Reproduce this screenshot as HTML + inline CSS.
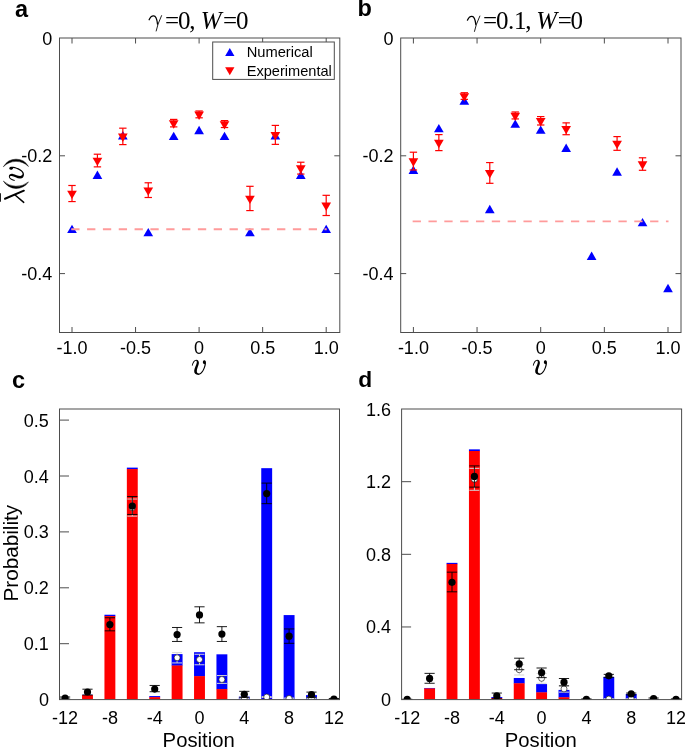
<!DOCTYPE html>
<html><head><meta charset="utf-8"><title>Figure</title>
<style>html,body{margin:0;padding:0;background:#fff;}svg{display:block;will-change:transform;}text{white-space:pre;}</style>
</head><body>
<svg width="685" height="748" viewBox="0 0 685 748">
<rect x="0" y="0" width="685" height="748" fill="#fff"/>
<polygon points="67.15,233.11 76.85,233.11 72.00,224.71" fill="#0000ff"/>
<polygon points="92.57,178.92 102.27,178.92 97.42,170.52" fill="#0000ff"/>
<polygon points="117.99,139.52 127.69,139.52 122.84,131.12" fill="#0000ff"/>
<polygon points="143.41,236.35 153.11,236.35 148.26,227.95" fill="#0000ff"/>
<polygon points="168.83,140.11 178.53,140.11 173.68,131.71" fill="#0000ff"/>
<polygon points="194.25,134.22 203.95,134.22 199.10,125.82" fill="#0000ff"/>
<polygon points="219.67,140.11 229.37,140.11 224.52,131.71" fill="#0000ff"/>
<polygon points="245.09,236.35 254.79,236.35 249.94,227.95" fill="#0000ff"/>
<polygon points="270.51,139.52 280.21,139.52 275.36,131.12" fill="#0000ff"/>
<polygon points="295.93,178.92 305.63,178.92 300.78,170.52" fill="#0000ff"/>
<polygon points="321.35,233.11 331.05,233.11 326.20,224.71" fill="#0000ff"/>
<line x1="71.25" y1="229.25" x2="326.70" y2="229.25" stroke="#ff9b9b" stroke-width="1.9" stroke-dasharray="8.3 7.53"/>
<line x1="72.00" y1="185.49" x2="72.00" y2="201.57" stroke="#ff0000" stroke-width="1.2" />
<line x1="68.30" y1="185.49" x2="75.70" y2="185.49" stroke="#ff0000" stroke-width="1.2" />
<line x1="68.30" y1="201.57" x2="75.70" y2="201.57" stroke="#ff0000" stroke-width="1.2" />
<polygon points="67.15,190.70 76.85,190.70 72.00,199.10" fill="#ff0000"/>
<line x1="97.42" y1="154.21" x2="97.42" y2="166.87" stroke="#ff0000" stroke-width="1.2" />
<line x1="93.72" y1="154.21" x2="101.12" y2="154.21" stroke="#ff0000" stroke-width="1.2" />
<line x1="93.72" y1="166.87" x2="101.12" y2="166.87" stroke="#ff0000" stroke-width="1.2" />
<polygon points="92.57,157.71 102.27,157.71 97.42,166.11" fill="#ff0000"/>
<line x1="122.84" y1="128.18" x2="122.84" y2="144.61" stroke="#ff0000" stroke-width="1.2" />
<line x1="119.14" y1="128.18" x2="126.54" y2="128.18" stroke="#ff0000" stroke-width="1.2" />
<line x1="119.14" y1="144.61" x2="126.54" y2="144.61" stroke="#ff0000" stroke-width="1.2" />
<polygon points="117.99,133.56 127.69,133.56 122.84,141.96" fill="#ff0000"/>
<line x1="148.26" y1="182.78" x2="148.26" y2="197.50" stroke="#ff0000" stroke-width="1.2" />
<line x1="144.56" y1="182.78" x2="151.96" y2="182.78" stroke="#ff0000" stroke-width="1.2" />
<line x1="144.56" y1="197.50" x2="151.96" y2="197.50" stroke="#ff0000" stroke-width="1.2" />
<polygon points="143.41,187.40 153.11,187.40 148.26,195.80" fill="#ff0000"/>
<line x1="173.68" y1="119.40" x2="173.68" y2="126.88" stroke="#ff0000" stroke-width="1.2" />
<line x1="169.98" y1="119.40" x2="177.38" y2="119.40" stroke="#ff0000" stroke-width="1.2" />
<line x1="169.98" y1="126.88" x2="177.38" y2="126.88" stroke="#ff0000" stroke-width="1.2" />
<polygon points="168.83,120.37 178.53,120.37 173.68,128.77" fill="#ff0000"/>
<line x1="199.10" y1="110.98" x2="199.10" y2="117.81" stroke="#ff0000" stroke-width="1.2" />
<line x1="195.40" y1="110.98" x2="202.80" y2="110.98" stroke="#ff0000" stroke-width="1.2" />
<line x1="195.40" y1="117.81" x2="202.80" y2="117.81" stroke="#ff0000" stroke-width="1.2" />
<polygon points="194.25,111.59 203.95,111.59 199.10,119.99" fill="#ff0000"/>
<line x1="224.52" y1="120.58" x2="224.52" y2="127.53" stroke="#ff0000" stroke-width="1.2" />
<line x1="220.82" y1="120.58" x2="228.22" y2="120.58" stroke="#ff0000" stroke-width="1.2" />
<line x1="220.82" y1="127.53" x2="228.22" y2="127.53" stroke="#ff0000" stroke-width="1.2" />
<polygon points="219.67,121.19 229.37,121.19 224.52,129.59" fill="#ff0000"/>
<line x1="249.94" y1="186.31" x2="249.94" y2="210.58" stroke="#ff0000" stroke-width="1.2" />
<line x1="246.24" y1="186.31" x2="253.64" y2="186.31" stroke="#ff0000" stroke-width="1.2" />
<line x1="246.24" y1="210.58" x2="253.64" y2="210.58" stroke="#ff0000" stroke-width="1.2" />
<polygon points="245.09,195.70 254.79,195.70 249.94,204.10" fill="#ff0000"/>
<line x1="275.36" y1="125.41" x2="275.36" y2="144.37" stroke="#ff0000" stroke-width="1.2" />
<line x1="271.66" y1="125.41" x2="279.06" y2="125.41" stroke="#ff0000" stroke-width="1.2" />
<line x1="271.66" y1="144.37" x2="279.06" y2="144.37" stroke="#ff0000" stroke-width="1.2" />
<polygon points="270.51,132.09 280.21,132.09 275.36,140.49" fill="#ff0000"/>
<line x1="300.78" y1="162.22" x2="300.78" y2="174.06" stroke="#ff0000" stroke-width="1.2" />
<line x1="297.08" y1="162.22" x2="304.48" y2="162.22" stroke="#ff0000" stroke-width="1.2" />
<line x1="297.08" y1="174.06" x2="304.48" y2="174.06" stroke="#ff0000" stroke-width="1.2" />
<polygon points="295.93,165.37 305.63,165.37 300.78,173.77" fill="#ff0000"/>
<line x1="326.20" y1="195.32" x2="326.20" y2="215.52" stroke="#ff0000" stroke-width="1.2" />
<line x1="322.50" y1="195.32" x2="329.90" y2="195.32" stroke="#ff0000" stroke-width="1.2" />
<line x1="322.50" y1="215.52" x2="329.90" y2="215.52" stroke="#ff0000" stroke-width="1.2" />
<polygon points="321.35,202.48 331.05,202.48 326.20,210.88" fill="#ff0000"/>
<rect x="59.50" y="38.00" width="280.30" height="294.50" fill="none" stroke="#4d4d4d" stroke-width="1.0"/>
<line x1="72.00" y1="332.50" x2="72.00" y2="327.00" stroke="#4d4d4d" stroke-width="1.0" />
<line x1="72.00" y1="38.00" x2="72.00" y2="43.50" stroke="#4d4d4d" stroke-width="1.0" />
<line x1="135.55" y1="332.50" x2="135.55" y2="327.00" stroke="#4d4d4d" stroke-width="1.0" />
<line x1="135.55" y1="38.00" x2="135.55" y2="43.50" stroke="#4d4d4d" stroke-width="1.0" />
<line x1="199.10" y1="332.50" x2="199.10" y2="327.00" stroke="#4d4d4d" stroke-width="1.0" />
<line x1="199.10" y1="38.00" x2="199.10" y2="43.50" stroke="#4d4d4d" stroke-width="1.0" />
<line x1="262.65" y1="332.50" x2="262.65" y2="327.00" stroke="#4d4d4d" stroke-width="1.0" />
<line x1="262.65" y1="38.00" x2="262.65" y2="43.50" stroke="#4d4d4d" stroke-width="1.0" />
<line x1="326.20" y1="332.50" x2="326.20" y2="327.00" stroke="#4d4d4d" stroke-width="1.0" />
<line x1="326.20" y1="38.00" x2="326.20" y2="43.50" stroke="#4d4d4d" stroke-width="1.0" />
<line x1="59.50" y1="155.80" x2="65.00" y2="155.80" stroke="#4d4d4d" stroke-width="1.0" />
<line x1="339.80" y1="155.80" x2="334.30" y2="155.80" stroke="#4d4d4d" stroke-width="1.0" />
<line x1="59.50" y1="273.60" x2="65.00" y2="273.60" stroke="#4d4d4d" stroke-width="1.0" />
<line x1="339.80" y1="273.60" x2="334.30" y2="273.60" stroke="#4d4d4d" stroke-width="1.0" />
<text x="72.00" y="353.60" font-family='"Liberation Sans", sans-serif' font-size="18" text-anchor="middle" font-weight="normal" font-style="normal" fill="#000" >-1.0</text>
<text x="135.55" y="353.60" font-family='"Liberation Sans", sans-serif' font-size="18" text-anchor="middle" font-weight="normal" font-style="normal" fill="#000" >-0.5</text>
<text x="199.10" y="353.60" font-family='"Liberation Sans", sans-serif' font-size="18" text-anchor="middle" font-weight="normal" font-style="normal" fill="#000" >0</text>
<text x="262.65" y="353.60" font-family='"Liberation Sans", sans-serif' font-size="18" text-anchor="middle" font-weight="normal" font-style="normal" fill="#000" >0.5</text>
<text x="326.20" y="353.60" font-family='"Liberation Sans", sans-serif' font-size="18" text-anchor="middle" font-weight="normal" font-style="normal" fill="#000" >1.0</text>
<text x="52.30" y="44.50" font-family='"Liberation Sans", sans-serif' font-size="18" text-anchor="end" font-weight="normal" font-style="normal" fill="#000" >0</text>
<text x="52.30" y="162.30" font-family='"Liberation Sans", sans-serif' font-size="18" text-anchor="end" font-weight="normal" font-style="normal" fill="#000" >-0.2</text>
<text x="52.30" y="280.10" font-family='"Liberation Sans", sans-serif' font-size="18" text-anchor="end" font-weight="normal" font-style="normal" fill="#000" >-0.4</text>
<polygon points="408.55,173.91 418.25,173.91 413.40,165.51" fill="#0000ff"/>
<polygon points="434.01,132.33 443.71,132.33 438.86,123.93" fill="#0000ff"/>
<polygon points="459.47,104.71 469.17,104.71 464.32,96.31" fill="#0000ff"/>
<polygon points="484.93,213.14 494.63,213.14 489.78,204.74" fill="#0000ff"/>
<polygon points="510.39,127.85 520.09,127.85 515.24,119.45" fill="#0000ff"/>
<polygon points="535.85,133.86 545.55,133.86 540.70,125.46" fill="#0000ff"/>
<polygon points="561.31,151.94 571.01,151.94 566.16,143.54" fill="#0000ff"/>
<polygon points="586.77,259.91 596.47,259.91 591.62,251.51" fill="#0000ff"/>
<polygon points="612.23,175.68 621.93,175.68 617.08,167.28" fill="#0000ff"/>
<polygon points="637.69,226.34 647.39,226.34 642.54,217.94" fill="#0000ff"/>
<polygon points="663.15,292.13 672.85,292.13 668.00,283.73" fill="#0000ff"/>
<line x1="412.65" y1="221.41" x2="668.50" y2="221.41" stroke="#ff9b9b" stroke-width="1.9" stroke-dasharray="8.3 7.53"/>
<line x1="413.40" y1="152.21" x2="413.40" y2="169.99" stroke="#ff0000" stroke-width="1.2" />
<line x1="409.70" y1="152.21" x2="417.10" y2="152.21" stroke="#ff0000" stroke-width="1.2" />
<line x1="409.70" y1="169.99" x2="417.10" y2="169.99" stroke="#ff0000" stroke-width="1.2" />
<polygon points="408.55,158.30 418.25,158.30 413.40,166.70" fill="#ff0000"/>
<line x1="438.86" y1="134.60" x2="438.86" y2="150.62" stroke="#ff0000" stroke-width="1.2" />
<line x1="435.16" y1="134.60" x2="442.56" y2="134.60" stroke="#ff0000" stroke-width="1.2" />
<line x1="435.16" y1="150.62" x2="442.56" y2="150.62" stroke="#ff0000" stroke-width="1.2" />
<polygon points="434.01,139.81 443.71,139.81 438.86,148.21" fill="#ff0000"/>
<line x1="464.32" y1="92.72" x2="464.32" y2="99.37" stroke="#ff0000" stroke-width="1.2" />
<line x1="460.62" y1="92.72" x2="468.02" y2="92.72" stroke="#ff0000" stroke-width="1.2" />
<line x1="460.62" y1="99.37" x2="468.02" y2="99.37" stroke="#ff0000" stroke-width="1.2" />
<polygon points="459.47,93.22 469.17,93.22 464.32,101.62" fill="#ff0000"/>
<line x1="489.78" y1="162.57" x2="489.78" y2="183.31" stroke="#ff0000" stroke-width="1.2" />
<line x1="486.08" y1="162.57" x2="493.48" y2="162.57" stroke="#ff0000" stroke-width="1.2" />
<line x1="486.08" y1="183.31" x2="493.48" y2="183.31" stroke="#ff0000" stroke-width="1.2" />
<polygon points="484.93,170.08 494.63,170.08 489.78,178.48" fill="#ff0000"/>
<line x1="515.24" y1="111.98" x2="515.24" y2="118.93" stroke="#ff0000" stroke-width="1.2" />
<line x1="511.54" y1="111.98" x2="518.94" y2="111.98" stroke="#ff0000" stroke-width="1.2" />
<line x1="511.54" y1="118.93" x2="518.94" y2="118.93" stroke="#ff0000" stroke-width="1.2" />
<polygon points="510.39,112.71 520.09,112.71 515.24,121.11" fill="#ff0000"/>
<line x1="540.70" y1="116.57" x2="540.70" y2="125.00" stroke="#ff0000" stroke-width="1.2" />
<line x1="537.00" y1="116.57" x2="544.40" y2="116.57" stroke="#ff0000" stroke-width="1.2" />
<line x1="537.00" y1="125.00" x2="544.40" y2="125.00" stroke="#ff0000" stroke-width="1.2" />
<polygon points="535.85,118.01 545.55,118.01 540.70,126.41" fill="#ff0000"/>
<line x1="566.16" y1="122.87" x2="566.16" y2="134.71" stroke="#ff0000" stroke-width="1.2" />
<line x1="562.46" y1="122.87" x2="569.86" y2="122.87" stroke="#ff0000" stroke-width="1.2" />
<line x1="562.46" y1="134.71" x2="569.86" y2="134.71" stroke="#ff0000" stroke-width="1.2" />
<polygon points="561.31,125.91 571.01,125.91 566.16,134.31" fill="#ff0000"/>
<line x1="617.08" y1="136.60" x2="617.08" y2="150.32" stroke="#ff0000" stroke-width="1.2" />
<line x1="613.38" y1="136.60" x2="620.78" y2="136.60" stroke="#ff0000" stroke-width="1.2" />
<line x1="613.38" y1="150.32" x2="620.78" y2="150.32" stroke="#ff0000" stroke-width="1.2" />
<polygon points="612.23,140.63 621.93,140.63 617.08,149.03" fill="#ff0000"/>
<line x1="642.54" y1="157.80" x2="642.54" y2="170.29" stroke="#ff0000" stroke-width="1.2" />
<line x1="638.84" y1="157.80" x2="646.24" y2="157.80" stroke="#ff0000" stroke-width="1.2" />
<line x1="638.84" y1="170.29" x2="646.24" y2="170.29" stroke="#ff0000" stroke-width="1.2" />
<polygon points="637.69,161.25 647.39,161.25 642.54,169.65" fill="#ff0000"/>
<rect x="400.70" y="38.00" width="280.30" height="294.50" fill="none" stroke="#4d4d4d" stroke-width="1.0"/>
<line x1="413.40" y1="332.50" x2="413.40" y2="327.00" stroke="#4d4d4d" stroke-width="1.0" />
<line x1="413.40" y1="38.00" x2="413.40" y2="43.50" stroke="#4d4d4d" stroke-width="1.0" />
<line x1="477.05" y1="332.50" x2="477.05" y2="327.00" stroke="#4d4d4d" stroke-width="1.0" />
<line x1="477.05" y1="38.00" x2="477.05" y2="43.50" stroke="#4d4d4d" stroke-width="1.0" />
<line x1="540.70" y1="332.50" x2="540.70" y2="327.00" stroke="#4d4d4d" stroke-width="1.0" />
<line x1="540.70" y1="38.00" x2="540.70" y2="43.50" stroke="#4d4d4d" stroke-width="1.0" />
<line x1="604.35" y1="332.50" x2="604.35" y2="327.00" stroke="#4d4d4d" stroke-width="1.0" />
<line x1="604.35" y1="38.00" x2="604.35" y2="43.50" stroke="#4d4d4d" stroke-width="1.0" />
<line x1="668.00" y1="332.50" x2="668.00" y2="327.00" stroke="#4d4d4d" stroke-width="1.0" />
<line x1="668.00" y1="38.00" x2="668.00" y2="43.50" stroke="#4d4d4d" stroke-width="1.0" />
<line x1="400.70" y1="155.80" x2="406.20" y2="155.80" stroke="#4d4d4d" stroke-width="1.0" />
<line x1="681.00" y1="155.80" x2="675.50" y2="155.80" stroke="#4d4d4d" stroke-width="1.0" />
<line x1="400.70" y1="273.60" x2="406.20" y2="273.60" stroke="#4d4d4d" stroke-width="1.0" />
<line x1="681.00" y1="273.60" x2="675.50" y2="273.60" stroke="#4d4d4d" stroke-width="1.0" />
<text x="413.40" y="353.60" font-family='"Liberation Sans", sans-serif' font-size="18" text-anchor="middle" font-weight="normal" font-style="normal" fill="#000" >-1.0</text>
<text x="477.05" y="353.60" font-family='"Liberation Sans", sans-serif' font-size="18" text-anchor="middle" font-weight="normal" font-style="normal" fill="#000" >-0.5</text>
<text x="540.70" y="353.60" font-family='"Liberation Sans", sans-serif' font-size="18" text-anchor="middle" font-weight="normal" font-style="normal" fill="#000" >0</text>
<text x="604.35" y="353.60" font-family='"Liberation Sans", sans-serif' font-size="18" text-anchor="middle" font-weight="normal" font-style="normal" fill="#000" >0.5</text>
<text x="668.00" y="353.60" font-family='"Liberation Sans", sans-serif' font-size="18" text-anchor="middle" font-weight="normal" font-style="normal" fill="#000" >1.0</text>
<text x="393.50" y="44.50" font-family='"Liberation Sans", sans-serif' font-size="18" text-anchor="end" font-weight="normal" font-style="normal" fill="#000" >0</text>
<text x="393.50" y="162.30" font-family='"Liberation Sans", sans-serif' font-size="18" text-anchor="end" font-weight="normal" font-style="normal" fill="#000" >-0.2</text>
<text x="393.50" y="280.10" font-family='"Liberation Sans", sans-serif' font-size="18" text-anchor="end" font-weight="normal" font-style="normal" fill="#000" >-0.4</text>
<rect x="212.7" y="42.0" width="121.6" height="37.4" fill="#fff" stroke="#4d4d4d" stroke-width="1"/>
<polygon points="225.15,55.97 234.45,55.97 229.80,47.97" fill="#0000ff"/>
<polygon points="225.15,67.13 234.45,67.13 229.80,75.13" fill="#ff0000"/>
<text x="246.70" y="56.80" font-family='"Liberation Sans", sans-serif' font-size="14.7" text-anchor="start" font-weight="normal" font-style="normal" fill="#000" >Numerical</text>
<text x="246.70" y="75.60" font-family='"Liberation Sans", sans-serif' font-size="14.6" text-anchor="start" font-weight="normal" font-style="normal" fill="#000" >Experimental</text>
<text x="165.00" y="29.00" font-family='"Liberation Serif", serif' font-size="25" text-anchor="start" font-weight="normal" font-style="normal" fill="#000" >=</text>
<text x="177.90" y="29.00" font-family='"Liberation Serif", serif' font-size="25" text-anchor="start" font-weight="normal" font-style="normal" fill="#000" >0</text>
<text x="189.20" y="29.00" font-family='"Liberation Serif", serif' font-size="25" text-anchor="start" font-weight="normal" font-style="normal" fill="#000" >,</text>
<text x="200.80" y="29.00" font-family='"Liberation Serif", serif' font-size="25" text-anchor="start" font-weight="normal" font-style="italic" fill="#000" >W</text>
<text x="223.00" y="29.00" font-family='"Liberation Serif", serif' font-size="25" text-anchor="start" font-weight="normal" font-style="normal" fill="#000" >=</text>
<text x="236.10" y="29.00" font-family='"Liberation Serif", serif' font-size="25" text-anchor="start" font-weight="normal" font-style="normal" fill="#000" >0</text>
<text x="483.00" y="29.40" font-family='"Liberation Serif", serif' font-size="25" text-anchor="start" font-weight="normal" font-style="normal" fill="#000" >=</text>
<text x="495.90" y="29.40" font-family='"Liberation Serif", serif' font-size="25" text-anchor="start" font-weight="normal" font-style="normal" fill="#000" >0</text>
<text x="508.00" y="29.40" font-family='"Liberation Serif", serif' font-size="25" text-anchor="start" font-weight="normal" font-style="normal" fill="#000" >.</text>
<text x="514.00" y="29.40" font-family='"Liberation Serif", serif' font-size="25" text-anchor="start" font-weight="normal" font-style="normal" fill="#000" >1</text>
<text x="525.30" y="29.40" font-family='"Liberation Serif", serif' font-size="25" text-anchor="start" font-weight="normal" font-style="normal" fill="#000" >,</text>
<text x="536.20" y="29.40" font-family='"Liberation Serif", serif' font-size="25" text-anchor="start" font-weight="normal" font-style="italic" fill="#000" >W</text>
<text x="557.80" y="29.40" font-family='"Liberation Serif", serif' font-size="25" text-anchor="start" font-weight="normal" font-style="normal" fill="#000" >=</text>
<text x="570.60" y="29.40" font-family='"Liberation Serif", serif' font-size="25" text-anchor="start" font-weight="normal" font-style="normal" fill="#000" >0</text>
<g transform="translate(191.8,374.94)"><path transform="scale(0.0438) translate(-178,-478)" d="M178 262C192 185 235 132 278 132C325 132 348 175 338 225C328 280 290 345 292 395C294 435 320 448 345 445C400 438 455 330 472 232C445 225 428 205 430 180C432 150 455 138 472 142C498 148 508 185 500 230C485 330 420 478 330 478C265 478 228 440 232 385C236 320 285 250 292 195C295 168 282 152 268 155C240 160 210 215 196 268Z" fill="#000"/></g>
<g transform="translate(532.8,374.94)"><path transform="scale(0.0438) translate(-178,-478)" d="M178 262C192 185 235 132 278 132C325 132 348 175 338 225C328 280 290 345 292 395C294 435 320 448 345 445C400 438 455 330 472 232C445 225 428 205 430 180C432 150 455 138 472 142C498 148 508 185 500 230C485 330 420 478 330 478C265 478 228 440 232 385C236 320 285 250 292 195C295 168 282 152 268 155C240 160 210 215 196 268Z" fill="#000"/></g>
<g transform="translate(142,6) scale(0.058394)" fill="none" stroke="#000" stroke-linecap="round" stroke-linejoin="round"><path d="M122 236C140 195 170 168 200 170C240 172 258 240 266 310" stroke-width="22"/><path d="M335 165L275 310L243 428" stroke-width="15"/></g>
<g transform="translate(460.3,6.4) scale(0.058394)" fill="none" stroke="#000" stroke-linecap="round" stroke-linejoin="round"><path d="M122 236C140 195 170 168 200 170C240 172 258 240 266 310" stroke-width="22"/><path d="M335 165L275 310L243 428" stroke-width="15"/></g>
<g transform="translate(0,150) scale(0.080192)" stroke="#000" fill="none" stroke-linecap="round"><path d="M62 608L298 508" stroke-width="24"/><path d="M188 562L296 653" stroke-width="18"/><path d="M0 540L0 645" stroke-width="22" stroke-linecap="butt"/><path d="M45 392A183 183 0 0 0 355 398A236 236 0 0 1 45 392Z" fill="#000" stroke-width="6" stroke-linejoin="round"/><path d="M45 205A178 178 0 0 1 355 205A220 220 0 0 0 45 205Z" fill="#000" stroke-width="6" stroke-linejoin="round"/></g>
<g transform="translate(24.0,180.9) rotate(-90)"><path transform="scale(0.0438) translate(-178,-478)" d="M178 262C192 185 235 132 278 132C325 132 348 175 338 225C328 280 290 345 292 395C294 435 320 448 345 445C400 438 455 330 472 232C445 225 428 205 430 180C432 150 455 138 472 142C498 148 508 185 500 230C485 330 420 478 330 478C265 478 228 440 232 385C236 320 285 250 292 195C295 168 282 152 268 155C240 160 210 215 196 268Z" fill="#000"/></g>
<text x="15.00" y="16.60" font-family='"Liberation Sans", sans-serif' font-size="23.5" text-anchor="start" font-weight="bold" font-style="normal" fill="#000" >a</text>
<text x="357.50" y="16.20" font-family='"Liberation Sans", sans-serif' font-size="23.5" text-anchor="start" font-weight="bold" font-style="normal" fill="#000" >b</text>
<text x="11.90" y="387.70" font-family='"Liberation Sans", sans-serif' font-size="23.5" text-anchor="start" font-weight="bold" font-style="normal" fill="#000" >c</text>
<text x="358.30" y="387.00" font-family='"Liberation Sans", sans-serif' font-size="22.8" text-anchor="start" font-weight="bold" font-style="normal" fill="#000" >d</text>
<clipPath id="clipc"><rect x="59.5" y="409.0" width="280.0" height="290.6"/></clipPath>
<g clip-path="url(#clipc)">
<rect x="82.05" y="694.79" width="10.9" height="0.52" fill="#0000ff"/>
<rect x="104.45" y="614.74" width="10.9" height="1.59" fill="#0000ff"/>
<rect x="126.85" y="467.62" width="10.9" height="1.75" fill="#0000ff"/>
<rect x="149.25" y="696.08" width="10.9" height="1.36" fill="#0000ff"/>
<rect x="171.65" y="654.10" width="10.9" height="11.70" fill="#0000ff"/>
<rect x="194.05" y="652.20" width="10.9" height="24.23" fill="#0000ff"/>
<rect x="216.45" y="654.32" width="10.9" height="35.07" fill="#0000ff"/>
<rect x="238.85" y="696.64" width="10.9" height="2.96" fill="#0000ff"/>
<rect x="261.25" y="468.17" width="10.9" height="231.06" fill="#0000ff"/>
<rect x="283.65" y="615.08" width="10.9" height="84.52" fill="#0000ff"/>
<rect x="306.05" y="695.13" width="10.9" height="4.47" fill="#0000ff"/>
<rect x="82.05" y="695.02" width="10.9" height="4.58" fill="#ff0000"/>
<rect x="104.45" y="616.03" width="10.9" height="83.57" fill="#ff0000"/>
<rect x="126.85" y="469.07" width="10.9" height="230.53" fill="#ff0000"/>
<rect x="149.25" y="697.14" width="10.9" height="2.46" fill="#ff0000"/>
<rect x="171.65" y="665.50" width="10.9" height="34.10" fill="#ff0000"/>
<rect x="194.05" y="676.12" width="10.9" height="23.48" fill="#ff0000"/>
<rect x="216.45" y="689.09" width="10.9" height="10.51" fill="#ff0000"/>
<rect x="261.25" y="698.93" width="10.9" height="0.67" fill="#ff0000"/>
<line x1="132.30" y1="499.03" x2="132.30" y2="516.14" stroke="#d4d4d4" stroke-width="1.0" />
<line x1="127.30" y1="499.03" x2="137.30" y2="499.03" stroke="#d4d4d4" stroke-width="1.0" />
<line x1="127.30" y1="516.14" x2="137.30" y2="516.14" stroke="#d4d4d4" stroke-width="1.0" />
<circle cx="132.30" cy="507.58" r="3.0" fill="#fff" stroke="#111" stroke-width="0.65"/>
<line x1="177.10" y1="652.64" x2="177.10" y2="662.93" stroke="#d4d4d4" stroke-width="1.0" />
<line x1="172.10" y1="652.64" x2="182.10" y2="652.64" stroke="#d4d4d4" stroke-width="1.0" />
<line x1="172.10" y1="662.93" x2="182.10" y2="662.93" stroke="#d4d4d4" stroke-width="1.0" />
<circle cx="177.10" cy="657.79" r="3.0" fill="#fff" stroke="#111" stroke-width="0.65"/>
<line x1="199.50" y1="654.27" x2="199.50" y2="664.77" stroke="#d4d4d4" stroke-width="1.0" />
<line x1="194.50" y1="654.27" x2="204.50" y2="654.27" stroke="#d4d4d4" stroke-width="1.0" />
<line x1="194.50" y1="664.77" x2="204.50" y2="664.77" stroke="#d4d4d4" stroke-width="1.0" />
<circle cx="199.50" cy="659.52" r="3.0" fill="#fff" stroke="#111" stroke-width="0.65"/>
<line x1="221.90" y1="675.56" x2="221.90" y2="683.39" stroke="#d4d4d4" stroke-width="1.0" />
<line x1="216.90" y1="675.56" x2="226.90" y2="675.56" stroke="#d4d4d4" stroke-width="1.0" />
<line x1="216.90" y1="683.39" x2="226.90" y2="683.39" stroke="#d4d4d4" stroke-width="1.0" />
<circle cx="221.90" cy="679.48" r="3.0" fill="#fff" stroke="#111" stroke-width="0.65"/>
<line x1="244.30" y1="697.48" x2="244.30" y2="698.37" stroke="#d4d4d4" stroke-width="1.0" />
<line x1="239.30" y1="697.48" x2="249.30" y2="697.48" stroke="#d4d4d4" stroke-width="1.0" />
<line x1="239.30" y1="698.37" x2="249.30" y2="698.37" stroke="#d4d4d4" stroke-width="1.0" />
<circle cx="244.30" cy="697.92" r="3.0" fill="#fff" stroke="#111" stroke-width="0.65"/>
<line x1="266.70" y1="696.64" x2="266.70" y2="697.53" stroke="#d4d4d4" stroke-width="1.0" />
<line x1="261.70" y1="696.64" x2="271.70" y2="696.64" stroke="#d4d4d4" stroke-width="1.0" />
<line x1="261.70" y1="697.53" x2="271.70" y2="697.53" stroke="#d4d4d4" stroke-width="1.0" />
<circle cx="266.70" cy="697.08" r="3.0" fill="#fff" stroke="#111" stroke-width="0.65"/>
<line x1="289.10" y1="698.03" x2="289.10" y2="698.93" stroke="#d4d4d4" stroke-width="1.0" />
<line x1="284.10" y1="698.03" x2="294.10" y2="698.03" stroke="#d4d4d4" stroke-width="1.0" />
<line x1="284.10" y1="698.93" x2="294.10" y2="698.93" stroke="#d4d4d4" stroke-width="1.0" />
<circle cx="289.10" cy="698.48" r="3.0" fill="#fff" stroke="#111" stroke-width="0.65"/>
<line x1="311.50" y1="697.48" x2="311.50" y2="698.37" stroke="#d4d4d4" stroke-width="1.0" />
<line x1="306.50" y1="697.48" x2="316.50" y2="697.48" stroke="#d4d4d4" stroke-width="1.0" />
<line x1="306.50" y1="698.37" x2="316.50" y2="698.37" stroke="#d4d4d4" stroke-width="1.0" />
<circle cx="311.50" cy="697.92" r="3.0" fill="#fff" stroke="#111" stroke-width="0.65"/>
<line x1="65.10" y1="697.03" x2="65.10" y2="699.04" stroke="#000" stroke-width="0.9" />
<line x1="60.00" y1="697.03" x2="70.20" y2="697.03" stroke="#000" stroke-width="0.9" />
<line x1="60.00" y1="699.04" x2="70.20" y2="699.04" stroke="#000" stroke-width="0.9" />
<circle cx="65.10" cy="698.03" r="3.6" fill="#000"/>
<line x1="87.50" y1="689.20" x2="87.50" y2="695.02" stroke="#000" stroke-width="0.9" />
<line x1="82.40" y1="689.20" x2="92.60" y2="689.20" stroke="#000" stroke-width="0.9" />
<line x1="82.40" y1="695.02" x2="92.60" y2="695.02" stroke="#000" stroke-width="0.9" />
<circle cx="87.50" cy="692.00" r="3.6" fill="#000"/>
<line x1="109.90" y1="617.76" x2="109.90" y2="630.84" stroke="#000" stroke-width="0.9" />
<line x1="104.80" y1="617.76" x2="115.00" y2="617.76" stroke="#000" stroke-width="0.9" />
<line x1="104.80" y1="630.84" x2="115.00" y2="630.84" stroke="#000" stroke-width="0.9" />
<circle cx="109.90" cy="624.53" r="3.6" fill="#000"/>
<line x1="132.30" y1="496.52" x2="132.30" y2="514.46" stroke="#000" stroke-width="0.9" />
<line x1="127.20" y1="496.52" x2="137.40" y2="496.52" stroke="#000" stroke-width="0.9" />
<line x1="127.20" y1="514.46" x2="137.40" y2="514.46" stroke="#000" stroke-width="0.9" />
<circle cx="132.30" cy="506.02" r="3.6" fill="#000"/>
<line x1="154.70" y1="685.46" x2="154.70" y2="691.72" stroke="#000" stroke-width="0.9" />
<line x1="149.60" y1="685.46" x2="159.80" y2="685.46" stroke="#000" stroke-width="0.9" />
<line x1="149.60" y1="691.72" x2="159.80" y2="691.72" stroke="#000" stroke-width="0.9" />
<circle cx="154.70" cy="689.09" r="3.6" fill="#000"/>
<line x1="177.10" y1="627.49" x2="177.10" y2="641.46" stroke="#000" stroke-width="0.9" />
<line x1="172.00" y1="627.49" x2="182.20" y2="627.49" stroke="#000" stroke-width="0.9" />
<line x1="172.00" y1="641.46" x2="182.20" y2="641.46" stroke="#000" stroke-width="0.9" />
<circle cx="177.10" cy="634.53" r="3.6" fill="#000"/>
<line x1="199.50" y1="606.81" x2="199.50" y2="622.85" stroke="#000" stroke-width="0.9" />
<line x1="194.40" y1="606.81" x2="204.60" y2="606.81" stroke="#000" stroke-width="0.9" />
<line x1="194.40" y1="622.85" x2="204.60" y2="622.85" stroke="#000" stroke-width="0.9" />
<circle cx="199.50" cy="614.91" r="3.6" fill="#000"/>
<line x1="221.90" y1="626.65" x2="221.90" y2="641.46" stroke="#000" stroke-width="0.9" />
<line x1="216.80" y1="626.65" x2="227.00" y2="626.65" stroke="#000" stroke-width="0.9" />
<line x1="216.80" y1="641.46" x2="227.00" y2="641.46" stroke="#000" stroke-width="0.9" />
<circle cx="221.90" cy="634.03" r="3.6" fill="#000"/>
<line x1="244.30" y1="691.33" x2="244.30" y2="697.36" stroke="#000" stroke-width="0.9" />
<line x1="239.20" y1="691.33" x2="249.40" y2="691.33" stroke="#000" stroke-width="0.9" />
<line x1="239.20" y1="697.36" x2="249.40" y2="697.36" stroke="#000" stroke-width="0.9" />
<circle cx="244.30" cy="694.35" r="3.6" fill="#000"/>
<line x1="266.70" y1="483.10" x2="266.70" y2="503.67" stroke="#000" stroke-width="0.9" />
<line x1="261.60" y1="483.10" x2="271.80" y2="483.10" stroke="#000" stroke-width="0.9" />
<line x1="261.60" y1="503.67" x2="271.80" y2="503.67" stroke="#000" stroke-width="0.9" />
<circle cx="266.70" cy="493.55" r="3.6" fill="#000"/>
<line x1="289.10" y1="628.94" x2="289.10" y2="643.31" stroke="#000" stroke-width="0.9" />
<line x1="284.00" y1="628.94" x2="294.20" y2="628.94" stroke="#000" stroke-width="0.9" />
<line x1="284.00" y1="643.31" x2="294.20" y2="643.31" stroke="#000" stroke-width="0.9" />
<circle cx="289.10" cy="636.21" r="3.6" fill="#000"/>
<line x1="311.50" y1="692.11" x2="311.50" y2="697.36" stroke="#000" stroke-width="0.9" />
<line x1="306.40" y1="692.11" x2="316.60" y2="692.11" stroke="#000" stroke-width="0.9" />
<line x1="306.40" y1="697.36" x2="316.60" y2="697.36" stroke="#000" stroke-width="0.9" />
<circle cx="311.50" cy="694.68" r="3.6" fill="#000"/>
<line x1="333.90" y1="698.48" x2="333.90" y2="699.60" stroke="#000" stroke-width="0.9" />
<line x1="328.80" y1="698.48" x2="339.00" y2="698.48" stroke="#000" stroke-width="0.9" />
<line x1="328.80" y1="699.60" x2="339.00" y2="699.60" stroke="#000" stroke-width="0.9" />
<circle cx="333.90" cy="699.04" r="3.6" fill="#000"/>
</g>
<rect x="59.50" y="409.00" width="280.00" height="290.60" fill="none" stroke="#4d4d4d" stroke-width="1.0"/>
<text x="48.90" y="706.10" font-family='"Liberation Sans", sans-serif' font-size="18" text-anchor="end" font-weight="normal" font-style="normal" fill="#000" >0</text>
<line x1="59.50" y1="643.70" x2="69.00" y2="643.70" stroke="#4d4d4d" stroke-width="1.0" />
<text x="48.90" y="650.20" font-family='"Liberation Sans", sans-serif' font-size="18" text-anchor="end" font-weight="normal" font-style="normal" fill="#000" >0.1</text>
<line x1="59.50" y1="587.80" x2="69.00" y2="587.80" stroke="#4d4d4d" stroke-width="1.0" />
<text x="48.90" y="594.30" font-family='"Liberation Sans", sans-serif' font-size="18" text-anchor="end" font-weight="normal" font-style="normal" fill="#000" >0.2</text>
<line x1="59.50" y1="531.90" x2="69.00" y2="531.90" stroke="#4d4d4d" stroke-width="1.0" />
<text x="48.90" y="538.40" font-family='"Liberation Sans", sans-serif' font-size="18" text-anchor="end" font-weight="normal" font-style="normal" fill="#000" >0.3</text>
<line x1="59.50" y1="476.00" x2="69.00" y2="476.00" stroke="#4d4d4d" stroke-width="1.0" />
<text x="48.90" y="482.50" font-family='"Liberation Sans", sans-serif' font-size="18" text-anchor="end" font-weight="normal" font-style="normal" fill="#000" >0.4</text>
<line x1="59.50" y1="420.10" x2="69.00" y2="420.10" stroke="#4d4d4d" stroke-width="1.0" />
<text x="48.90" y="426.60" font-family='"Liberation Sans", sans-serif' font-size="18" text-anchor="end" font-weight="normal" font-style="normal" fill="#000" >0.5</text>
<text x="65.10" y="724.00" font-family='"Liberation Sans", sans-serif' font-size="18" text-anchor="middle" font-weight="normal" font-style="normal" fill="#000" >-12</text>
<text x="109.90" y="724.00" font-family='"Liberation Sans", sans-serif' font-size="18" text-anchor="middle" font-weight="normal" font-style="normal" fill="#000" >-8</text>
<text x="154.70" y="724.00" font-family='"Liberation Sans", sans-serif' font-size="18" text-anchor="middle" font-weight="normal" font-style="normal" fill="#000" >-4</text>
<text x="199.50" y="724.00" font-family='"Liberation Sans", sans-serif' font-size="18" text-anchor="middle" font-weight="normal" font-style="normal" fill="#000" >0</text>
<text x="244.30" y="724.00" font-family='"Liberation Sans", sans-serif' font-size="18" text-anchor="middle" font-weight="normal" font-style="normal" fill="#000" >4</text>
<text x="289.10" y="724.00" font-family='"Liberation Sans", sans-serif' font-size="18" text-anchor="middle" font-weight="normal" font-style="normal" fill="#000" >8</text>
<text x="333.90" y="724.00" font-family='"Liberation Sans", sans-serif' font-size="18" text-anchor="middle" font-weight="normal" font-style="normal" fill="#000" >12</text>
<text x="198.70" y="747.00" font-family='"Liberation Sans", sans-serif' font-size="20.3" text-anchor="middle" font-weight="normal" font-style="normal" fill="#000" >Position</text>
<g transform="translate(17.5,553.2) rotate(-90)">
<text x="0.00" y="0.00" font-family='"Liberation Sans", sans-serif' font-size="20.7" text-anchor="middle" font-weight="normal" font-style="normal" fill="#000" >Probability</text>
</g>
<clipPath id="clipd"><rect x="401.6" y="409.0" width="280.0" height="290.6"/></clipPath>
<g clip-path="url(#clipd)">
<rect x="424.15" y="687.98" width="10.9" height="0.79" fill="#0000ff"/>
<rect x="446.55" y="562.86" width="10.9" height="1.39" fill="#0000ff"/>
<rect x="468.95" y="449.36" width="10.9" height="1.93" fill="#0000ff"/>
<rect x="491.35" y="697.06" width="10.9" height="1.21" fill="#0000ff"/>
<rect x="513.75" y="677.99" width="10.9" height="5.57" fill="#0000ff"/>
<rect x="536.15" y="684.11" width="10.9" height="8.53" fill="#0000ff"/>
<rect x="558.55" y="689.92" width="10.9" height="7.65" fill="#0000ff"/>
<rect x="603.35" y="676.97" width="10.9" height="22.63" fill="#0000ff"/>
<rect x="625.75" y="693.97" width="10.9" height="5.63" fill="#0000ff"/>
<rect x="648.15" y="699.06" width="10.9" height="0.54" fill="#0000ff"/>
<rect x="424.15" y="688.47" width="10.9" height="11.13" fill="#ff0000"/>
<rect x="446.55" y="563.94" width="10.9" height="135.66" fill="#ff0000"/>
<rect x="468.95" y="450.99" width="10.9" height="248.61" fill="#ff0000"/>
<rect x="491.35" y="697.97" width="10.9" height="1.63" fill="#ff0000"/>
<rect x="513.75" y="683.26" width="10.9" height="16.34" fill="#ff0000"/>
<rect x="536.15" y="692.34" width="10.9" height="7.26" fill="#ff0000"/>
<rect x="558.55" y="697.28" width="10.9" height="2.32" fill="#ff0000"/>
<line x1="474.40" y1="468.35" x2="474.40" y2="490.29" stroke="#d4d4d4" stroke-width="1.0" />
<line x1="469.40" y1="468.35" x2="479.40" y2="468.35" stroke="#d4d4d4" stroke-width="1.0" />
<line x1="469.40" y1="490.29" x2="479.40" y2="490.29" stroke="#d4d4d4" stroke-width="1.0" />
<circle cx="474.40" cy="479.32" r="3.0" fill="#fff" stroke="#111" stroke-width="0.65"/>
<line x1="519.20" y1="664.46" x2="519.20" y2="674.99" stroke="#d4d4d4" stroke-width="1.0" />
<line x1="514.20" y1="664.46" x2="524.20" y2="664.46" stroke="#d4d4d4" stroke-width="1.0" />
<line x1="514.20" y1="674.99" x2="524.20" y2="674.99" stroke="#d4d4d4" stroke-width="1.0" />
<circle cx="519.20" cy="669.73" r="3.0" fill="#fff" stroke="#111" stroke-width="0.65"/>
<line x1="541.60" y1="673.45" x2="541.60" y2="683.26" stroke="#d4d4d4" stroke-width="1.0" />
<line x1="536.60" y1="673.45" x2="546.60" y2="673.45" stroke="#d4d4d4" stroke-width="1.0" />
<line x1="536.60" y1="683.26" x2="546.60" y2="683.26" stroke="#d4d4d4" stroke-width="1.0" />
<circle cx="541.60" cy="678.35" r="3.0" fill="#fff" stroke="#111" stroke-width="0.65"/>
<line x1="564.00" y1="685.62" x2="564.00" y2="692.15" stroke="#d4d4d4" stroke-width="1.0" />
<line x1="559.00" y1="685.62" x2="569.00" y2="685.62" stroke="#d4d4d4" stroke-width="1.0" />
<line x1="559.00" y1="692.15" x2="569.00" y2="692.15" stroke="#d4d4d4" stroke-width="1.0" />
<circle cx="564.00" cy="688.89" r="3.0" fill="#fff" stroke="#111" stroke-width="0.65"/>
<line x1="608.80" y1="698.69" x2="608.80" y2="699.42" stroke="#d4d4d4" stroke-width="1.0" />
<line x1="603.80" y1="698.69" x2="613.80" y2="698.69" stroke="#d4d4d4" stroke-width="1.0" />
<line x1="603.80" y1="699.42" x2="613.80" y2="699.42" stroke="#d4d4d4" stroke-width="1.0" />
<circle cx="608.80" cy="699.06" r="3.0" fill="#fff" stroke="#111" stroke-width="0.65"/>
<line x1="631.20" y1="698.69" x2="631.20" y2="699.42" stroke="#d4d4d4" stroke-width="1.0" />
<line x1="626.20" y1="698.69" x2="636.20" y2="698.69" stroke="#d4d4d4" stroke-width="1.0" />
<line x1="626.20" y1="699.42" x2="636.20" y2="699.42" stroke="#d4d4d4" stroke-width="1.0" />
<circle cx="631.20" cy="699.06" r="3.0" fill="#fff" stroke="#111" stroke-width="0.65"/>
<line x1="407.20" y1="699.24" x2="407.20" y2="699.60" stroke="#000" stroke-width="0.9" />
<line x1="402.10" y1="699.24" x2="412.30" y2="699.24" stroke="#000" stroke-width="0.9" />
<line x1="402.10" y1="699.60" x2="412.30" y2="699.60" stroke="#000" stroke-width="0.9" />
<circle cx="407.20" cy="699.42" r="3.6" fill="#000"/>
<line x1="429.60" y1="673.36" x2="429.60" y2="683.26" stroke="#000" stroke-width="0.9" />
<line x1="424.50" y1="673.36" x2="434.70" y2="673.36" stroke="#000" stroke-width="0.9" />
<line x1="424.50" y1="683.26" x2="434.70" y2="683.26" stroke="#000" stroke-width="0.9" />
<circle cx="429.60" cy="678.41" r="3.6" fill="#000"/>
<line x1="452.00" y1="572.17" x2="452.00" y2="591.82" stroke="#000" stroke-width="0.9" />
<line x1="446.90" y1="572.17" x2="457.10" y2="572.17" stroke="#000" stroke-width="0.9" />
<line x1="446.90" y1="591.82" x2="457.10" y2="591.82" stroke="#000" stroke-width="0.9" />
<circle cx="452.00" cy="582.29" r="3.6" fill="#000"/>
<line x1="474.40" y1="465.88" x2="474.40" y2="487.13" stroke="#000" stroke-width="0.9" />
<line x1="469.30" y1="465.88" x2="479.50" y2="465.88" stroke="#000" stroke-width="0.9" />
<line x1="469.30" y1="487.13" x2="479.50" y2="487.13" stroke="#000" stroke-width="0.9" />
<circle cx="474.40" cy="476.41" r="3.6" fill="#000"/>
<line x1="496.80" y1="693.06" x2="496.80" y2="698.87" stroke="#000" stroke-width="0.9" />
<line x1="491.70" y1="693.06" x2="501.90" y2="693.06" stroke="#000" stroke-width="0.9" />
<line x1="491.70" y1="698.87" x2="501.90" y2="698.87" stroke="#000" stroke-width="0.9" />
<circle cx="496.80" cy="695.97" r="3.6" fill="#000"/>
<line x1="519.20" y1="658.20" x2="519.20" y2="669.73" stroke="#000" stroke-width="0.9" />
<line x1="514.10" y1="658.20" x2="524.30" y2="658.20" stroke="#000" stroke-width="0.9" />
<line x1="514.10" y1="669.73" x2="524.30" y2="669.73" stroke="#000" stroke-width="0.9" />
<circle cx="519.20" cy="663.93" r="3.6" fill="#000"/>
<line x1="541.60" y1="668.00" x2="541.60" y2="677.63" stroke="#000" stroke-width="0.9" />
<line x1="536.50" y1="668.00" x2="546.70" y2="668.00" stroke="#000" stroke-width="0.9" />
<line x1="536.50" y1="677.63" x2="546.70" y2="677.63" stroke="#000" stroke-width="0.9" />
<circle cx="541.60" cy="672.72" r="3.6" fill="#000"/>
<line x1="564.00" y1="678.50" x2="564.00" y2="685.87" stroke="#000" stroke-width="0.9" />
<line x1="558.90" y1="678.50" x2="569.10" y2="678.50" stroke="#000" stroke-width="0.9" />
<line x1="558.90" y1="685.87" x2="569.10" y2="685.87" stroke="#000" stroke-width="0.9" />
<circle cx="564.00" cy="682.17" r="3.6" fill="#000"/>
<line x1="586.40" y1="698.87" x2="586.40" y2="699.60" stroke="#000" stroke-width="0.9" />
<line x1="581.30" y1="698.87" x2="591.50" y2="698.87" stroke="#000" stroke-width="0.9" />
<line x1="581.30" y1="699.60" x2="591.50" y2="699.60" stroke="#000" stroke-width="0.9" />
<circle cx="586.40" cy="699.24" r="3.6" fill="#000"/>
<line x1="608.80" y1="674.36" x2="608.80" y2="677.26" stroke="#000" stroke-width="0.9" />
<line x1="603.70" y1="674.36" x2="613.90" y2="674.36" stroke="#000" stroke-width="0.9" />
<line x1="603.70" y1="677.26" x2="613.90" y2="677.26" stroke="#000" stroke-width="0.9" />
<circle cx="608.80" cy="675.81" r="3.6" fill="#000"/>
<line x1="631.20" y1="693.06" x2="631.20" y2="694.88" stroke="#000" stroke-width="0.9" />
<line x1="626.10" y1="693.06" x2="636.30" y2="693.06" stroke="#000" stroke-width="0.9" />
<line x1="626.10" y1="694.88" x2="636.30" y2="694.88" stroke="#000" stroke-width="0.9" />
<circle cx="631.20" cy="693.97" r="3.6" fill="#000"/>
<line x1="653.60" y1="697.97" x2="653.60" y2="699.42" stroke="#000" stroke-width="0.9" />
<line x1="648.50" y1="697.97" x2="658.70" y2="697.97" stroke="#000" stroke-width="0.9" />
<line x1="648.50" y1="699.42" x2="658.70" y2="699.42" stroke="#000" stroke-width="0.9" />
<circle cx="653.60" cy="698.69" r="3.6" fill="#000"/>
<line x1="676.00" y1="698.87" x2="676.00" y2="699.60" stroke="#000" stroke-width="0.9" />
<line x1="670.90" y1="698.87" x2="681.10" y2="698.87" stroke="#000" stroke-width="0.9" />
<line x1="670.90" y1="699.60" x2="681.10" y2="699.60" stroke="#000" stroke-width="0.9" />
<circle cx="676.00" cy="699.24" r="3.6" fill="#000"/>
</g>
<rect x="401.60" y="409.00" width="280.00" height="290.60" fill="none" stroke="#4d4d4d" stroke-width="1.0"/>
<text x="391.00" y="706.10" font-family='"Liberation Sans", sans-serif' font-size="18" text-anchor="end" font-weight="normal" font-style="normal" fill="#000" >0</text>
<line x1="401.60" y1="626.96" x2="411.10" y2="626.96" stroke="#4d4d4d" stroke-width="1.0" />
<text x="391.00" y="633.46" font-family='"Liberation Sans", sans-serif' font-size="18" text-anchor="end" font-weight="normal" font-style="normal" fill="#000" >0.4</text>
<line x1="401.60" y1="554.32" x2="411.10" y2="554.32" stroke="#4d4d4d" stroke-width="1.0" />
<text x="391.00" y="560.82" font-family='"Liberation Sans", sans-serif' font-size="18" text-anchor="end" font-weight="normal" font-style="normal" fill="#000" >0.8</text>
<line x1="401.60" y1="481.68" x2="411.10" y2="481.68" stroke="#4d4d4d" stroke-width="1.0" />
<text x="391.00" y="488.18" font-family='"Liberation Sans", sans-serif' font-size="18" text-anchor="end" font-weight="normal" font-style="normal" fill="#000" >1.2</text>
<text x="391.00" y="415.54" font-family='"Liberation Sans", sans-serif' font-size="18" text-anchor="end" font-weight="normal" font-style="normal" fill="#000" >1.6</text>
<text x="407.20" y="724.00" font-family='"Liberation Sans", sans-serif' font-size="18" text-anchor="middle" font-weight="normal" font-style="normal" fill="#000" >-12</text>
<text x="452.00" y="724.00" font-family='"Liberation Sans", sans-serif' font-size="18" text-anchor="middle" font-weight="normal" font-style="normal" fill="#000" >-8</text>
<text x="496.80" y="724.00" font-family='"Liberation Sans", sans-serif' font-size="18" text-anchor="middle" font-weight="normal" font-style="normal" fill="#000" >-4</text>
<text x="541.60" y="724.00" font-family='"Liberation Sans", sans-serif' font-size="18" text-anchor="middle" font-weight="normal" font-style="normal" fill="#000" >0</text>
<text x="586.40" y="724.00" font-family='"Liberation Sans", sans-serif' font-size="18" text-anchor="middle" font-weight="normal" font-style="normal" fill="#000" >4</text>
<text x="631.20" y="724.00" font-family='"Liberation Sans", sans-serif' font-size="18" text-anchor="middle" font-weight="normal" font-style="normal" fill="#000" >8</text>
<text x="676.00" y="724.00" font-family='"Liberation Sans", sans-serif' font-size="18" text-anchor="middle" font-weight="normal" font-style="normal" fill="#000" >12</text>
<text x="540.80" y="747.00" font-family='"Liberation Sans", sans-serif' font-size="20.3" text-anchor="middle" font-weight="normal" font-style="normal" fill="#000" >Position</text>
</svg>
</body></html>
